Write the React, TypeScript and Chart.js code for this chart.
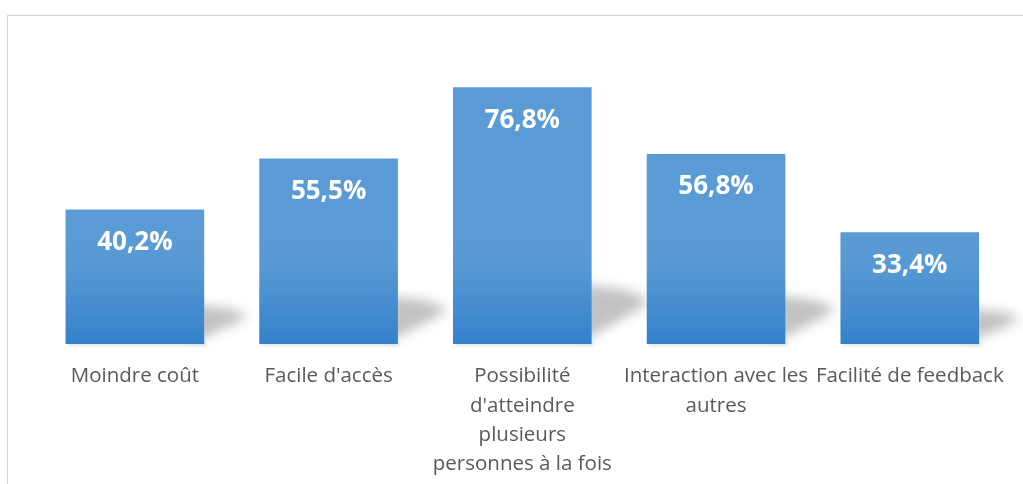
import React, { useEffect, useRef } from "react";
import { Chart, registerables } from "chart.js";

Chart.register(...registerables);

const categories: (string | string[])[] = [
  "Moindre coût",
  "Facile d'accès",
  ["Possibilité", "d'atteindre", "plusieurs", "personnes à la fois"],
  ["Interaction avec les", "autres"],
  "Facilité de feedback",
];
const values: number[] = [40.2, 55.5, 76.8, 56.8, 33.4];

const FONT = "'Open Sans', 'DejaVu Sans', sans-serif";

const shadowPlugin = {
  id: "barShadow",
  beforeDatasetsDraw(chart: any) {
    const ctx = chart.ctx;
    const meta = chart.getDatasetMeta(0);
    ctx.save();
    meta.data.forEach((el: any) => {
      const { x, y, base, width } = el.getProps(["x", "y", "base", "width"], true);
      const right = x + width / 2;
      const left = x - width / 2;
      const h = base - y;
      const H = 17 + 0.167 * h;
      const L = 28 + 0.12 * h;
      ctx.filter = "blur(6px)";
      ctx.fillStyle = "rgba(0,0,0,0.24)";
      ctx.beginPath();
      ctx.moveTo(right - 10, base - H);
      ctx.lineTo(right + L * 0.6, base - H * 0.9);
      ctx.lineTo(right + L, base - H * 0.72);
      ctx.lineTo(right + L * 0.75, base - H * 0.55);
      ctx.lineTo(right - 10, base - 2);
      ctx.closePath();
      ctx.fill();
      ctx.filter = "blur(1.5px)";
      ctx.fillStyle = "rgba(0,0,0,0.1)";
      ctx.fillRect(left + 2, base - 2, width, 4);
    });
    ctx.restore();
  },
};

const gradientPlugin = {
  id: "barGradient",
  beforeDatasetsDraw(chart: any) {
    const meta = chart.getDatasetMeta(0);
    meta.data.forEach((el: any) => {
      const { y, base } = el.getProps(["y", "base"], true);
      if (!isFinite(y) || !isFinite(base)) return;
      const g = chart.ctx.createLinearGradient(0, y, 0, base);
      g.addColorStop(0, "#5b9bd5");
      g.addColorStop(0.3, "#5799d4");
      g.addColorStop(1, "#3481cb");
      el.options.backgroundColor = g;
    });
  },
};

const labelPlugin = {
  id: "barLabels",
  afterDatasetsDraw(chart: any) {
    const ctx = chart.ctx;
    const meta = chart.getDatasetMeta(0);
    ctx.save();
    ctx.fillStyle = "#ffffff";
    ctx.font = `bold 26px ${FONT}`;
    ctx.textAlign = "center";
    ctx.textBaseline = "middle";
    meta.data.forEach((el: any, i: number) => {
      const { x, y } = el.getProps(["x", "y"], true);
      const txt = values[i].toFixed(1).replace(".", ",") + "%";
      ctx.fillText(txt, x, y + 33);
    });
    ctx.restore();
  },
};

export default function App() {
  const ref = useRef<HTMLCanvasElement>(null);
  useEffect(() => {
    if (!ref.current) return;
    const chart = new Chart(ref.current, {
      type: "bar",
      data: {
        labels: categories,
        datasets: [
          {
            data: values,
            backgroundColor: "#4a8fd1",
            borderWidth: 0,
            categoryPercentage: 1,
            barPercentage: 0.7156,
          },
        ],
      },
      options: {
        responsive: false,
        animation: false,
        maintainAspectRatio: false,
        layout: { padding: { left: 38, right: 13, top: 43, bottom: 0 } },
        plugins: {
          legend: { display: false },
          tooltip: { enabled: false },
        },
        scales: {
          y: { display: false, min: 0, max: 90 },
          x: {
            grid: { display: false, drawTicks: false },
            border: { display: false },
            ticks: {
              color: "#595959",
              font: { family: FONT, size: 20.5, lineHeight: 1.42 },
              padding: 18,
              maxRotation: 0,
              minRotation: 0,
              autoSkip: false,
            },
            afterFit: (s: any) => {
              s.height = 140;
            },
          },
        },
      },
      plugins: [shadowPlugin, gradientPlugin, labelPlugin],
    });
    return () => chart.destroy();
  }, []);
  return (
    <div
      style={{
        position: "fixed",
        left: 0,
        top: 0,
        width: 1023,
        height: 484,
        background: "#ffffff",
        overflow: "hidden",
      }}
    >
      <div
        style={{
          position: "absolute",
          left: 7,
          top: 15,
          width: 1100,
          height: 600,
          borderLeft: "1px solid #d4d4d4",
          borderTop: "1px solid #d4d4d4",
        }}
      />
      <canvas
        ref={ref}
        width={1023}
        height={484}
        style={{ position: "absolute", left: 0, top: 0, width: 1023, height: 484 }}
      />
    </div>
  );
}
